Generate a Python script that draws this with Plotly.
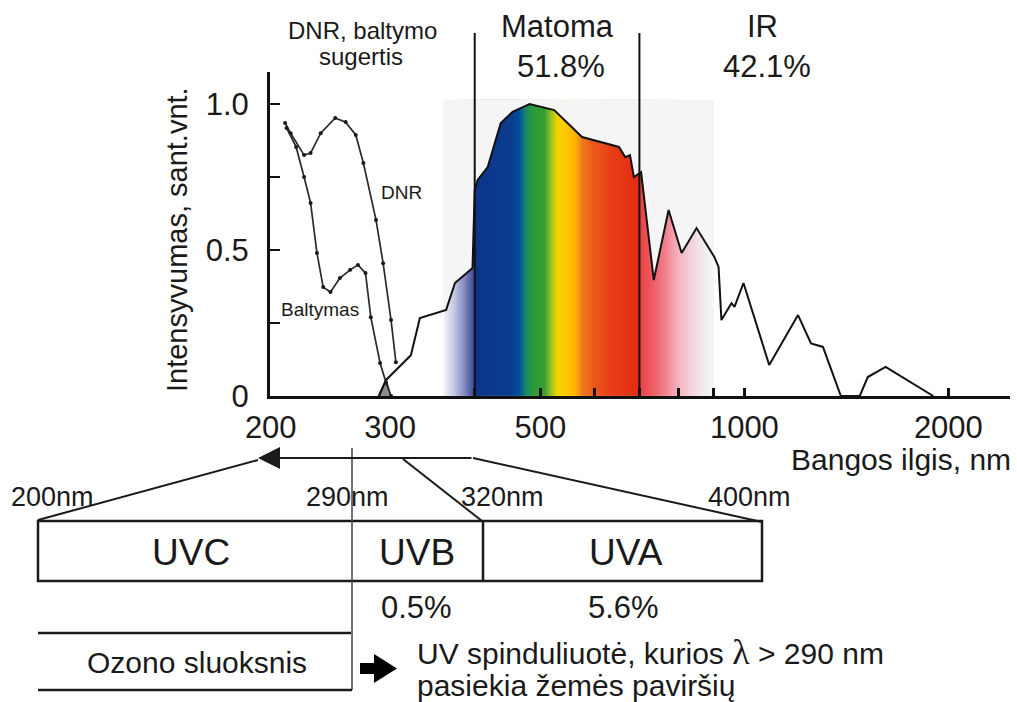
import numpy as np
import plotly.graph_objects as go

# ---------------- data ----------------
solar_nm = [289, 296, 322, 332, 363, 374, 397, 400, 404, 418, 437, 455, 482, 524, 576,
            653, 667, 678, 687, 704, 735, 773, 808, 850, 903, 916, 925, 957, 967, 997,
            1088, 1200, 1254, 1306, 1388, 1480, 1521, 1616, 1900]
solar_int = [0, 0.055, 0.14, 0.267, 0.295, 0.387, 0.438, 0.705, 0.74, 0.784, 0.935, 0.973, 1.0, 0.979, 0.887,
             0.853, 0.818, 0.825, 0.75, 0.767, 0.397, 0.637, 0.49, 0.575, 0.476, 0.442, 0.26, 0.318, 0.305, 0.387,
             0.106, 0.277, 0.18, 0.168, 0, 0, 0.065, 0.1, 0]

dna_nm = [210, 214, 224, 229, 237, 249, 258, 267, 274, 286, 293, 301, 306]
dna_int = [0.935, 0.90, 0.825, 0.832, 0.90, 0.952, 0.938, 0.894, 0.798, 0.603, 0.455, 0.26, 0.116]

protein_nm = [211, 218, 224, 229, 234, 239, 245, 253, 262, 269, 276, 281, 290, 296, 301]
protein_int = [0.918, 0.853, 0.75, 0.661, 0.49, 0.373, 0.356, 0.404, 0.432, 0.449, 0.421, 0.27, 0.113, 0.045, 0.0]

overlap_nm = [288, 296, 301]
overlap_int = [0, 0.06, 0]

x_tick_vals = [200, 300, 500, 1000, 2000]
x_tick_text = ["200", "300", "500", "1000", "2000"]
x_tick_marks = [400, 500, 600, 700, 800, 900, 1000, 2000]
y_tick_vals = [0, 0.25, 0.5, 0.75, 1.0]
y_tick_text = ["0", "", "0.5", "", "1.0"]

# spectral colour band (wavelength -> colour)
band_nm = [360, 372, 385, 399.5, 400.5, 455, 466, 476, 488, 508, 520, 530, 546, 563,
           576, 598, 640, 700, 701, 730, 760, 790, 830, 870, 900]
band_col = ["#f2f2f8", "#c9cce4", "#8a90c4", "#3e4797", "#0b358a", "#0b3d8e", "#0050a0", "#1a8a64",
            "#2a9a3a", "#3a9e30", "#a6c81e", "#f4d400", "#ffc800", "#fbb400", "#f07a20", "#eb5a1c",
            "#e83c16", "#e22c12", "#e84242", "#ee5a62", "#f07c88", "#f4a8b4", "#f2d0d8", "#f0ecee", "#f5f5f5"]
band_lo, band_hi, band_top = 360, 900, 1.014
bg_gray = "#f5f5f5"

FONT = "Liberation Sans, Arial, sans-serif"
INK = "#1a1a1a"

# ---------------- figure geometry helpers (pixel -> paper) ----------------
L, T, R, B = 270, 72, 1010, 396
W, H = 1017, 702


def pxx(x):
    return (x - L) / (R - L)


def pxy(y):
    return (B - y) / (B - T)


fig = go.Figure()

# colour band
edges = np.geomspace(band_lo, band_hi, 301)
mids = np.sqrt(edges[:-1] * edges[1:])
cscale = [[(n - band_lo) / (band_hi - band_lo), c] for n, c in zip(band_nm, band_col)]
fig.add_trace(go.Heatmap(x=edges, y=[0, band_top], z=[mids], colorscale=cscale,
                         zmin=band_lo, zmax=band_hi, showscale=False, hoverinfo="skip"))

# mask above the curve inside the band
lx = np.log10(solar_nm)
y_lo = float(np.interp(np.log10(band_lo), lx, solar_int))
y_hi = float(np.interp(np.log10(band_hi), lx, solar_int))
inner = [(n, v) for n, v in zip(solar_nm, solar_int) if band_lo < n < band_hi]
mask_x = [band_lo] + [p[0] for p in inner] + [band_hi, band_hi, band_lo, band_lo]
mask_y = [y_lo] + [p[1] for p in inner] + [y_hi, band_top, band_top, y_lo]
fig.add_trace(go.Scatter(x=mask_x, y=mask_y, fill="toself", fillcolor=bg_gray,
                         line=dict(width=0), mode="lines", hoverinfo="skip"))

# overlap triangle
fig.add_trace(go.Scatter(x=overlap_nm, y=overlap_int, fill="toself", fillcolor="#8e8e8e",
                         line=dict(color="#555555", width=1), mode="lines", hoverinfo="skip"))

# solar spectrum
fig.add_trace(go.Scatter(x=solar_nm, y=solar_int, mode="lines",
                         line=dict(color="#111111", width=2), hoverinfo="skip"))

# absorption curves
for xs, ys in [(dna_nm, dna_int), (protein_nm, protein_int)]:
    fig.add_trace(go.Scatter(x=xs, y=ys, mode="lines+markers",
                             line=dict(color="#2a2a2a", width=1.7),
                             marker=dict(size=4, color="#1a1a1a"), hoverinfo="skip"))

shapes = []
# region separators at 400 and 700 nm
for v in [400, 700]:
    shapes.append(dict(type="line", xref="x", yref="paper", x0=v, x1=v, y0=0, y1=pxy(33),
                       line=dict(color="#111111", width=2)))


def seg(x0, y0, x1, y1, w=2, col="#1a1a1a"):
    shapes.append(dict(type="line", xref="paper", yref="paper",
                       x0=pxx(x0), y0=pxy(y0), x1=pxx(x1), y1=pxy(y1),
                       line=dict(color=col, width=w)))


# lower schematic
seg(38, 520, 258, 460)
seg(473, 458, 762, 522)
seg(403, 459, 482, 521)
shapes.append(dict(type="rect", xref="paper", yref="paper",
                   x0=pxx(38), x1=pxx(762), y0=pxy(581), y1=pxy(521),
                   line=dict(color="#1a1a1a", width=2.5)))
seg(483, 521, 483, 581, 2.5)
seg(352, 448, 352, 690, 1.5, "#444444")
seg(38, 633, 351, 633, 2.5)
seg(38, 690, 352, 690, 2.5)

arrow_pts = [(360, 663), (374, 663), (374, 654), (397, 668.5), (374, 683), (374, 674), (360, 674)]
path = "M " + " L ".join(f"{pxx(a):.5f},{pxy(b):.5f}" for a, b in arrow_pts) + " Z"
shapes.append(dict(type="path", xref="paper", yref="paper", path=path,
                   fillcolor="#000000", line=dict(width=0)))

annotations = []


def txt(s, x, y, size, xanchor="center", angle=0):
    annotations.append(dict(text=s, x=pxx(x), y=pxy(y), xref="paper", yref="paper",
                            xanchor=xanchor, yanchor="middle", showarrow=False,
                            textangle=angle, font=dict(family=FONT, size=size, color=INK)))


txt("DNR, baltymo", 362, 30, 24)
txt("sugertis", 361, 56, 24)
txt("Matoma", 557, 26, 31)
txt("51.8%", 561, 67, 31)
txt("IR", 762, 26, 31)
txt("42.1%", 767, 67, 31)
txt("DNR", 401, 192, 19)
txt("Baltymas", 320, 309, 19)
txt("Intensyvumas, sant.vnt.", 177, 240, 29, angle=-90)
txt("Bangos ilgis, nm", 1013, 459, 30, xanchor="right")
txt("200nm", 52, 497, 27)
txt("290nm", 347, 497, 27)
txt("320nm", 502, 497, 27)
txt("400nm", 749, 497, 27)
txt("UVC", 191, 552, 37)
txt("UVB", 417, 552, 37)
txt("UVA", 626, 552, 37)
txt("0.5%", 416, 607, 31)
txt("5.6%", 623, 607, 31)
txt("Ozono sluoksnis", 197, 662, 30)
txt("UV spinduliuotė, kurios <span style='font-family:Liberation Serif;font-size:36px'>λ</span> > 290 nm",
    415, 652, 30, xanchor="left")
txt("pasiekia žemės paviršių", 415, 685, 30, xanchor="left")

# left-pointing arrow
annotations.append(dict(x=pxx(258), y=pxy(458), xref="paper", yref="paper", text="",
                        showarrow=True, ax=473 - 258, ay=0, arrowhead=2, arrowsize=2.2,
                        arrowwidth=2, arrowcolor="#1a1a1a"))

fig.update_layout(
    width=W, height=H,
    margin=dict(l=L, r=W - R, t=T, b=H - B, pad=0),
    paper_bgcolor="white", plot_bgcolor="white",
    showlegend=False,
    shapes=shapes, annotations=annotations,
    font=dict(family=FONT, color=INK),
    xaxis=dict(type="log", range=[np.log10(199.5), np.log10(2466)],
               tickvals=x_tick_vals, ticktext=x_tick_text, ticks="",
               minor=dict(tickvals=x_tick_marks, ticks="inside", ticklen=8, tickwidth=3, tickcolor="#111111"),
               showline=True, linewidth=3, linecolor="#111111", showgrid=False, zeroline=False,
               tickfont=dict(family=FONT, size=31, color=INK), ticklabelstandoff=2),
    yaxis=dict(range=[0, (B - T) / 292], tickvals=y_tick_vals, ticktext=y_tick_text,
               ticks="inside", ticklen=10, tickwidth=2, tickcolor="#111111",
               showline=True, linewidth=3, linecolor="#111111", showgrid=False, zeroline=False,
               tickfont=dict(family=FONT, size=31, color=INK), ticklabelstandoff=12),
)

fig.write_html("out.html", config={"displayModeBar": False},
               post_script="document.body.style.margin='0';document.body.style.overflow='hidden';")
